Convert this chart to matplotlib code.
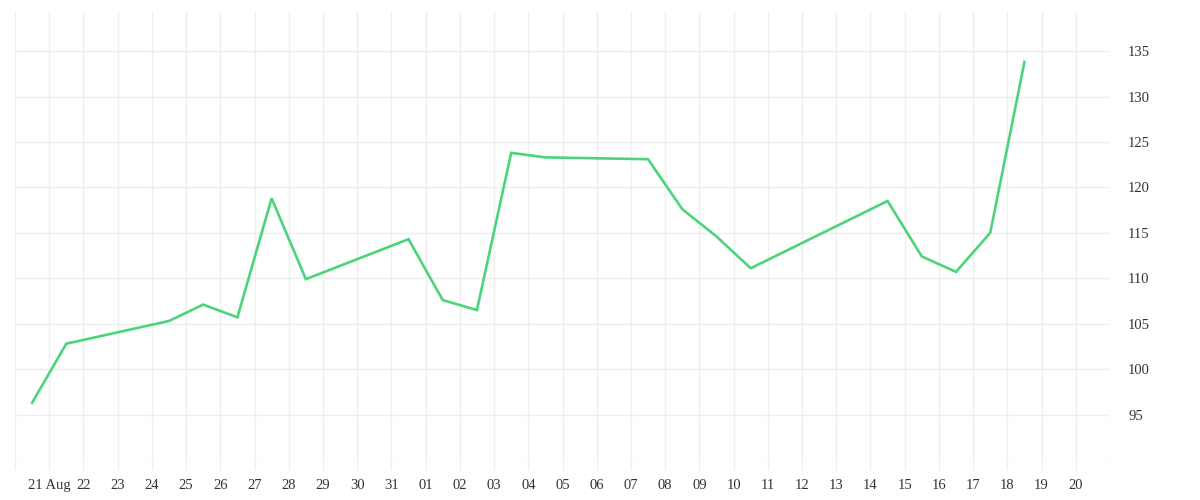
from datetime import datetime, timedelta
import matplotlib
matplotlib.use('Agg')
import matplotlib.pyplot as plt
import matplotlib.dates as mdates

# daily closes, weekends missing
dates = ['2020-08-20', '2020-08-21', '2020-08-24', '2020-08-25', '2020-08-26',
         '2020-08-27', '2020-08-28', '2020-08-31', '2020-09-01', '2020-09-02',
         '2020-09-03', '2020-09-04', '2020-09-07', '2020-09-08', '2020-09-09',
         '2020-09-10', '2020-09-14', '2020-09-15', '2020-09-16', '2020-09-17',
         '2020-09-18']
values = [96.3, 102.8, 105.3, 107.1, 105.7,
          118.8, 109.9, 114.3, 107.6, 106.5,
          123.8, 123.3, 123.1, 117.6, 114.6,
          111.1, 118.5, 112.4, 110.7, 115.0,
          133.8]
y_ticks = [90, 95, 100, 105, 110, 115, 120, 125, 130, 135]

plt.rcParams['font.family'] = ['Liberation Serif', 'DejaVu Serif']

# points sit in the middle of each day
x = [datetime.strptime(d, '%Y-%m-%d') + timedelta(hours=12) for d in dates]

start = datetime(2020, 8, 20)
end = datetime(2020, 9, 21)

fig = plt.figure(figsize=(12, 5), dpi=100)
ax = fig.add_axes([15/1200, 40/500, 1095/1200, 448/500])

ax.plot(x, values, color='#4cd47c', lw=1.9, solid_joinstyle='miter', zorder=3)

ax.set_xlim(start, end)
ax.set_ylim(90, 139.3)

day_ticks = [start + timedelta(days=i) for i in range((end - start).days + 1)]
major = day_ticks[:-1]
ax.set_xticks(major)
labels = []
for d in major:
    if d == start:
        labels.append('')
    elif d == datetime(2020, 8, 21):
        labels.append('21 Aug')
    else:
        labels.append(d.strftime('%d'))
ax.set_xticklabels(labels)
ax.set_xticks(day_ticks, minor=True)

ax.set_yticks(y_ticks)
ax.set_yticklabels(['' if v == 90 else str(v) for v in y_ticks])
ax.yaxis.tick_right()

for s in ax.spines.values():
    s.set_visible(False)

ax.grid(True, which='major', color='#efefef', lw=1)
ax.grid(True, which='minor', axis='x', color='#efefef', lw=1)
ax.tick_params(axis='x', which='major', length=7.5, width=1, color='#efefef',
               pad=6, labelsize=10.5, labelcolor='#333333')
ax.tick_params(axis='x', which='minor', length=0)
ax.tick_params(axis='y', length=0, pad=13, labelsize=10.5, labelcolor='#333333')
ax.set_axisbelow(True)

fig.savefig('out.png', dpi=100)
